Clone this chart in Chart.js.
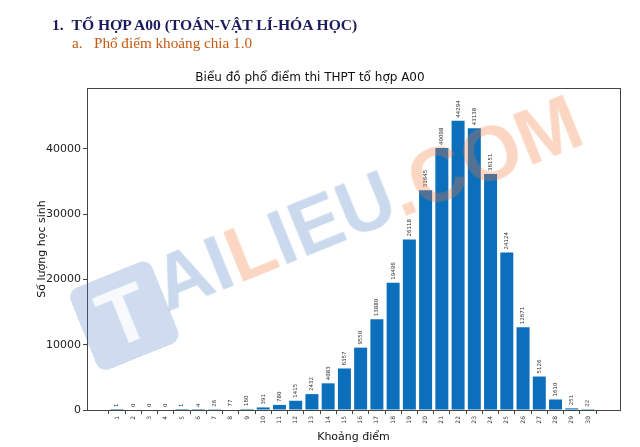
<!DOCTYPE html>
<html>
<head>
<meta charset="utf-8">
<script src="https://cdn.jsdelivr.net/npm/chart.js@4.4.0/dist/chart.umd.min.js"></script>
<style>
  body { margin: 0; background: #fff; }
  #page { position: relative; width: 640px; height: 447px; overflow: hidden; }
  #chart { position: absolute; left: 0; top: 0; }
  .h1 { position: absolute; left: 52px; top: 16px; font: bold 15.6px "Liberation Serif", serif; color: #1c1c5c; white-space: nowrap; }
  .h2 { position: absolute; left: 72px; top: 34px; font: 15.2px "Liberation Serif", serif; color: #c55a11; white-space: nowrap; }
  /* watermark */
  .wm { position: absolute; left: 100px; top: 373px; width: 0; height: 0;
        transform-origin: 0 0; transform: rotate(-22deg); pointer-events: none; }
  .wm .logo { position: absolute; left: 0; bottom: 0; width: 88px; height: 88px; border-radius: 10px;
        background: rgba(70, 120, 195, 0.26); color: rgba(255, 255, 255, 0.85);
        font: bold 80px "Liberation Sans", sans-serif; line-height: 88px; text-align: center; }
  .wm .txt { position: absolute; left: 85px; bottom: 19px; font: bold 77px "Liberation Sans", sans-serif;
        line-height: 77px; white-space: nowrap; }
  .wm .b { color: rgba(70, 120, 195, 0.28); }
  .wm .o { color: rgba(242, 120, 55, 0.3); }
</style>
</head>
<body>
<div id="page">
  <canvas id="chart" width="640" height="447"></canvas>
  <div class="h1">1.&nbsp;&nbsp;TỔ HỢP A00 (TOÁN-VẬT LÍ-HÓA HỌC)</div>
  <div class="h2">a.&nbsp;&nbsp; Phổ điểm khoảng chia 1.0</div>
  <div class="wm">
    <div class="logo">T</div>
    <div class="txt"><span class="b">AI</span><span class="o">L</span><span class="b">IEU</span><span class="o">.COM</span></div>
  </div>
</div>
<script>
var diem = [1, 2, 3, 4, 5, 6, 7, 8, 9, 10, 11, 12, 13, 14, 15, 16, 17, 18, 19, 20, 21, 22, 23, 24, 25, 26, 27, 28, 29, 30];
var soLuong = [1, 0, 0, 0, 1, 4, 26, 77, 160, 391, 780, 1415, 2432, 4083, 6357, 9550, 13880, 19496, 26118, 33645,
  40098, 44294, 43138, 36151, 24124, 12671, 5126, 1610, 251, 22];
var yTicks = [0, 10000, 20000, 30000, 40000];

var points = [];
for (var i = 0; i < diem.length; i++) {
  points.push({ x: diem[i], y: soLuong[i] });
}

// nhan so tren moi cot, xoay 90 do
var valueLabels = {
  id: "valueLabels",
  afterDatasetsDraw: function (chart) {
    var ctx = chart.ctx;
    var meta = chart.getDatasetMeta(0);
    ctx.save();
    ctx.font = "5.5px 'DejaVu Sans'";
    ctx.fillStyle = "#333";
    ctx.textAlign = "left";
    ctx.textBaseline = "middle";
    for (var i = 0; i < meta.data.length; i++) {
      var bar = meta.data[i];
      ctx.save();
      ctx.translate(bar.x, bar.y - 3);
      ctx.rotate(-Math.PI / 2);
      ctx.fillText(String(soLuong[i]), 0, 0);
      ctx.restore();
    }
    ctx.restore();
  }
};

var frame = {
  id: "frame",
  afterDraw: function (chart) {
    var a = chart.chartArea;
    var ctx = chart.ctx;
    ctx.save();
    ctx.strokeStyle = "#444";
    ctx.lineWidth = 1;
    ctx.strokeRect(Math.round(a.left) + 0.5, Math.round(a.top) + 0.5,
      Math.round(a.right - a.left), Math.round(a.bottom - a.top));
    ctx.restore();
  }
};

new Chart(document.getElementById("chart"), {
  type: "bar",
  data: {
    datasets: [{
      data: points,
      backgroundColor: "#0b6fbb",
      barPercentage: 1,
      categoryPercentage: 0.8
    }]
  },
  options: {
    responsive: false,
    animation: false,
    layout: { padding: { left: 0, right: 20, top: 0, bottom: 0 } },
    plugins: {
      legend: { display: false },
      tooltip: { enabled: false },
      title: {
        display: true,
        text: "Biểu đồ phổ điểm thi THPT tổ hợp A00",
        color: "#111",
        font: { family: "DejaVu Sans", size: 12, weight: "normal" },
        padding: { top: 70.8, bottom: 2.8 }
      }
    },
    scales: {
      x: {
        type: "linear",
        offset: false,
        min: -0.85,
        max: 31.97,
        afterBuildTicks: function (scale) {
          scale.ticks = diem.map(function (v) { return { value: v }; });
        },
        afterFit: function (scale) { scale.height = 37; },
        grid: { drawOnChartArea: false, drawTicks: true, tickLength: 4, color: "#444" },
        border: { display: false },
        ticks: {
          autoSkip: false,
          maxRotation: 90,
          minRotation: 90,
          padding: 2,
          color: "#333",
          font: { family: "DejaVu Sans", size: 6 }
        },
        title: {
          display: true,
          text: "Khoảng điểm",
          color: "#111",
          font: { family: "DejaVu Sans", size: 11 },
          padding: { top: 0, bottom: 3.4 }
        }
      },
      y: {
        min: 0,
        max: 49300,
        afterBuildTicks: function (scale) {
          scale.ticks = yTicks.map(function (v) { return { value: v }; });
        },
        afterFit: function (scale) { scale.width = 87; },
        grid: { drawOnChartArea: false, drawTicks: true, tickLength: 4, color: "#444" },
        border: { display: false },
        ticks: {
          padding: 2,
          color: "#222",
          font: { family: "DejaVu Sans", size: 11 },
          callback: function (v) { return String(v); }
        },
        title: {
          display: true,
          text: "Số lượng học sinh",
          color: "#111",
          font: { family: "DejaVu Sans", size: 11 },
          padding: { top: 35.4, bottom: 0 }
        }
      }
    }
  },
  plugins: [valueLabels, frame]
});
</script>
</body>
</html>
